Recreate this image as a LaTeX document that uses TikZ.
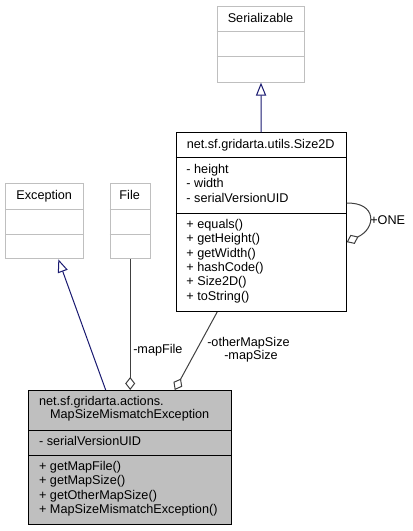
\documentclass[tikz,border=0pt]{standalone}
\usepackage{fontspec}
\setmainfont{Liberation Sans}
\usetikzlibrary{arrows.meta,calc}
\definecolor{lgrey}{HTML}{BFBFBF}
\definecolor{navy}{HTML}{191970}
\definecolor{dgrey}{HTML}{404040}
\begin{document}
\begin{tikzpicture}[x=0.75pt,y=-0.75pt,
  font=\fontsize{9.5pt}{11pt}\selectfont,
  greybox/.style={draw=lgrey,line width=0.75pt,rectangle,anchor=north west,inner sep=0},
  blackbox/.style={draw=black,line width=0.75pt,rectangle,anchor=north west,inner sep=0},
  mainbox/.style={draw=black,fill=lgrey,line width=0.75pt,rectangle,anchor=north west,inner sep=0},
  txt/.style={anchor=west,inner sep=0,text height=7pt,text depth=2pt},
  ctxt/.style={anchor=center,inner sep=0,text height=7pt,text depth=2pt},
  inherit/.style={draw=navy,line width=0.75pt,-{Triangle[open,length=9.75pt,width=7.7pt]}},
  assoc/.style={draw=dgrey,line width=0.75pt,-{Diamond[open,length=9.75pt,width=7.5pt]}},
  lbl/.style={inner sep=0,text height=7pt,text depth=2pt}]
\useasboundingbox (0,0) rectangle (413,531);

% Serializable
\node[greybox,minimum width=65.7pt,minimum height=57pt] (ser) at (216.7,5.7) {};
\draw[lgrey,line width=0.75pt] (ser.west |- 0,31.7) -- (ser.east |- 0,31.7);
\draw[lgrey,line width=0.75pt] (ser.west |- 0,56.7) -- (ser.east |- 0,56.7);
\node[ctxt] (sert) at (260.5,18.7) {Serializable};

% Size2D
\node[blackbox,minimum width=127.5pt,minimum height=134pt] (s2d) at (175.7,132.3) {};
\draw[line width=0.75pt] (s2d.west |- 0,157.7) -- (s2d.east |- 0,157.7);
\draw[line width=0.75pt] (s2d.west |- 0,213.3) -- (s2d.east |- 0,213.3);
\node[ctxt] (s2dt) at (260.7,145) {net.sf.gridarta.utils.Size2D};
\node[txt] (s2da1) at (186.2,170) {- height};
\node[txt] (s2da2) at (186.2,184.3) {- width};
\node[txt] (s2da3) at (186.2,198.7) {- serialVersionUID};
\node[txt] (s2dm1) at (186.2,225) {+ equals()};
\node[txt] (s2dm2) at (186.2,239.3) {+ getHeight()};
\node[txt] (s2dm3) at (186.2,253.7) {+ getWidth()};
\node[txt] (s2dm4) at (186.2,268) {+ hashCode()};
\node[txt] (s2dm5) at (186.2,282.3) {+ Size2D()};
\node[txt] (s2dm6) at (186.2,296.7) {+ toString()};

% Exception
\node[greybox,minimum width=58.7pt,minimum height=56.25pt] (exc) at (5,183.3) {};
\draw[lgrey,line width=0.75pt] (exc.west |- 0,209.3) -- (exc.east |- 0,209.3);
\draw[lgrey,line width=0.75pt] (exc.west |- 0,234.3) -- (exc.east |- 0,234.3);
\node[ctxt] (exct) at (44.2,196.3) {Exception};

% File
\node[greybox,minimum width=30pt,minimum height=56.25pt] (file) at (109.7,183.3) {};
\draw[lgrey,line width=0.75pt] (file.west |- 0,209.3) -- (file.east |- 0,209.3);
\draw[lgrey,line width=0.75pt] (file.west |- 0,234.3) -- (file.east |- 0,234.3);
\node[ctxt] (filet) at (129.7,196.3) {File};

% MapSizeMismatchException
\node[mainbox,minimum width=152pt,minimum height=100.7pt] (msm) at (28.3,390) {};
\draw[line width=0.75pt] (msm.west |- 0,430) -- (msm.east |- 0,430);
\draw[line width=0.75pt] (msm.west |- 0,455.7) -- (msm.east |- 0,455.7);
\node[txt] (msmt1) at (38.8,401.7) {net.sf.gridarta.actions.};
\node[ctxt] (msmt2) at (129.7,415.3) {MapSizeMismatchException};
\node[txt] (msma1) at (38.8,441.7) {- serialVersionUID};
\node[txt] (msmm1) at (38.8,467.3) {+ getMapFile()};
\node[txt] (msmm2) at (38.8,481.3) {+ getMapSize()};
\node[txt] (msmm3) at (38.8,495.7) {+ getOtherMapSize()};
\node[txt] (msmm4) at (38.8,509.8) {+ MapSizeMismatchException()};

% connectors
\draw[inherit] (s2d.north) -- (ser.south);
\draw[inherit] (msm) -- (exc);
\draw[assoc] (file.south) -- (msm.north -| file.south);
\draw[assoc] ($(s2d.south)+(-44,0)$) -- ($(msm.north)+(44.6,0)$);
\draw[assoc] ($(s2d.east)+(0,-19)$) .. controls ($(s2d.east)+(30,-20)$) and ($(s2d.east)+(30,6)$) .. ($(s2d.east)+(0,20)$);

% labels
\node[lbl,anchor=west] (lmf) at (133,350) {-mapFile};
\node[lbl,anchor=west] (lom) at (207,343) {-otherMapSize};
\node[lbl] (lms) at (251,356.5) {-mapSize};
\node[lbl,anchor=west] (lone) at (370,221) {+ONE};
\end{tikzpicture}
\end{document}
